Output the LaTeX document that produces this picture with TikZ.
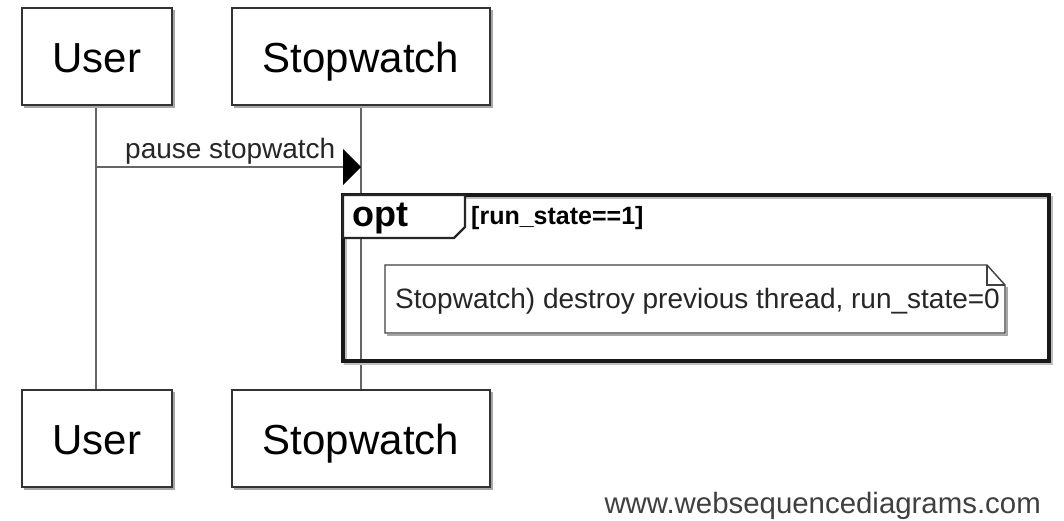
\documentclass[tikz,border=0pt]{standalone}
\usepackage{fontspec}
\setmainfont{Liberation Sans}
\usetikzlibrary{arrows.meta}
\tikzset{
	actor/.style={draw=black!80, line width=1.6pt, fill=white, minimum width=150pt, minimum height=97pt, inner sep=0pt, text height=31pt, text depth=0pt, font=\fontsize{42}{42}\selectfont},
	shade/.style={draw=black!35, line width=1.6pt},
	lifeline/.style={draw=black!60, line width=1.8pt},
	msg/.style={draw=black!60, line width=1.8pt, -{Triangle[length=18pt,width=36pt,color=black]}},
	tag/.style={font=\bfseries\fontsize{36}{36}\selectfont, inner sep=0pt},
	guard/.style={font=\bfseries\fontsize{25}{25}\selectfont, inner sep=0pt},
	small/.style={font=\fontsize{28}{28}\selectfont, inner sep=0pt, text=black!85}
}
\begin{document}
\begin{tikzpicture}[x=1pt, y=-1pt]
	\useasboundingbox[fill=white] (0,0) rectangle (1064,520);
	
	% lifelines
	\coordinate (u1) at (96,105);
	\coordinate (u2) at (96,390);
	\coordinate (s1) at (361,105);
	\coordinate (s2) at (361,390);
	\draw[lifeline] (u1) -- (u2);
	\draw[lifeline] (s1) -- (s2);
	
	% participants
	\draw[shade] (24,107) -- (174,107) -- (174,10);
	\draw[shade] (234,107) -- (492,107) -- (492,10);
	\node[actor] (U) at (97,56.5) {User};
	\node[actor, minimum width=258pt] (S) at (361,56.5) {Stopwatch};
	\draw[shade] (24,489) -- (174,489) -- (174,392);
	\draw[shade] (234,489) -- (492,489) -- (492,392);
	\node[actor] (U') at (97,438.5) {User};
	\node[actor, minimum width=258pt] (S') at (361,438.5) {Stopwatch};
	
	% message
	\coordinate (m1) at (96,167);
	\coordinate (m2) at (361,167);
	\draw[msg] (m1) -- (m2);
	\node[small, anchor=base west] (pause) at (125,158) {pause stopwatch};
	
	% opt frame
	\draw[black!25, line width=3pt] (345,197) rectangle (1051,363);
	\draw[black!90, line width=3.2pt] (343,195) rectangle (1049,361);
	\draw[black!85, line width=2.2pt, fill=white] (343,195) -- (465,195) -- (465,227) -- (454,238) -- (343,238) -- cycle;
	\node[tag, anchor=base west] (opt) at (352,226) {opt};
	\node[guard, anchor=base west] (cond) at (471,224) {[run\_state==1]};
	
	% note
	\draw[black!35, line width=1.6pt] (387,335) -- (1007,335) -- (1007,287);
	\draw[black!75, line width=1.4pt, fill=white] (385,265) -- (987,265) -- (1005,285) -- (1005,333) -- (385,333) -- cycle;
	\draw[black!75, line width=1.4pt] (987,265) -- (987,285) -- (1005,285);
	\node[small, anchor=base west] (note) at (395,308) {Stopwatch) destroy previous thread, run\_state=0};
	
	% footer
	\node[small, anchor=base east, text=black!75, font=\fontsize{29.4}{29.4}\selectfont] (www) at (1041,513) {www.websequencediagrams.com};
\end{tikzpicture}
\end{document}
